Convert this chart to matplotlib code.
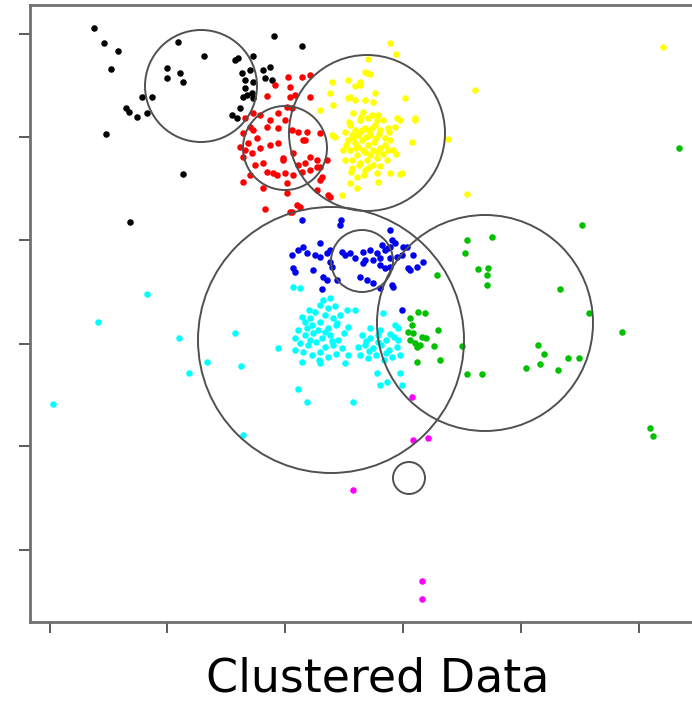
import matplotlib
matplotlib.use("Agg")
import matplotlib.pyplot as plt
from matplotlib.patches import Circle

# point clouds, one pair of lists per cluster
black_x = [4.4, 5.4, 6.8, 6.1, 11.7, 11.7, 13.0, 13.3, 12.8, 15.4, 18.5, 18.8, 20.3, 22.4,
           25.2, 22.0, 21.5, 22.2, 19.2, 19.5, 20.3, 19.7, 20.2, 19.3, 20.3, 9.2, 10.2, 7.6,
           7.9, 8.7, 9.7, 5.6, 13.3, 8.0, 18.2, 18.7, 19.5, 20.0, 19.0, 21.3]
black_y = [52.2, 50.7, 49.9, 48.1, 48.2, 47.2, 47.7, 46.8, 50.8, 49.4, 49.0, 49.2, 49.4, 51.4,
           50.4, 48.3, 47.2, 47.0, 47.7, 47.0, 46.8, 45.5, 45.7, 45.3, 45.2, 45.3, 45.3, 44.2,
           43.8, 43.3, 43.7, 41.6, 37.6, 32.8, 43.5, 43.2, 46.2, 48.0, 44.2, 48.0]

red_x = [23.8, 25.2, 26.0, 21.7, 24.5, 23.7, 24.2, 20.3, 21.0, 22.8, 20.0, 21.7, 22.8, 24.2,
         24.8, 19.3, 20.7, 19.8, 22.0, 22.8, 25.5, 27.0, 19.5, 21.0, 20.2, 21.3, 23.3, 26.0,
         26.7, 27.7, 21.7, 22.3, 23.5, 24.3, 25.2, 26.0, 26.7, 27.2, 19.3, 21.3, 23.7, 26.7,
         27.8, 21.5, 24.2, 25.0, 25.7, 24.0, 26.0, 20.3, 24.3, 27.0, 22.7, 23.7, 27.0, 28.0,
         25.3, 19.0, 19.3, 23.3, 24.8, 25.5, 20.5, 20.0, 22.0, 23.5, 19.5, 22.5, 24.0, 24.7,
         24.0]
red_y = [47.3, 47.3, 47.5, 45.4, 45.5, 44.3, 44.2, 43.7, 43.5, 43.7, 42.3, 42.3, 42.2, 42.0,
         41.8, 41.7, 41.2, 40.7, 40.5, 40.7, 41.0, 41.7, 40.0, 40.2, 39.7, 38.7, 39.2, 39.3,
         39.0, 39.0, 37.8, 37.7, 37.7, 37.5, 37.8, 38.0, 38.3, 37.3, 36.8, 36.2, 35.7, 36.0,
         35.5, 34.1, 33.8, 34.3, 41.8, 45.3, 45.3, 42.0, 39.7, 38.3, 37.5, 36.7, 37.0, 35.3,
         41.0, 40.3, 39.3, 39.0, 38.5, 38.7, 38.5, 37.5, 43.0, 43.0, 43.2, 46.5, 46.3, 34.5,
         33.8]

yellow_x = [34.0, 34.6, 31.8, 42.5, 61.3, 39.8, 41.7, 35.5, 36.5, 36.2, 34.0, 35.0, 32.8, 30.7,
            30.0, 29.2, 31.5, 32.0, 29.8, 31.0, 30.5, 32.5, 30.0, 30.5, 31.5, 32.3, 34.7, 35.0,
            30.3, 32.2, 32.7, 28.2, 28.0, 27.0, 28.3, 29.8, 31.7, 31.0, 36.5, 28.2, 28.5, 35.2,
            32.7, 30.7, 31.5, 32.7, 33.7, 33.8, 34.3, 30.0, 30.5, 31.0, 31.5, 32.0, 32.5, 33.0,
            33.5, 29.8, 30.5, 31.2, 31.8, 32.4, 33.0, 30.0, 30.7, 31.3, 32.0, 32.7, 30.2, 31.0,
            31.7, 32.3, 29.5, 30.8, 31.6, 32.2, 33.3, 33.8, 31.3, 31.8, 30.8, 33.5, 34.0, 29.6,
            30.2, 29.5, 31.2, 32.6, 30.2, 30.3, 31.0, 31.9, 32.9, 30.6, 31.5, 32.3, 33.3, 30.9,
            31.9, 29.9, 31.1, 32.8, 33.9, 29.3, 30.1, 31.4, 33.0, 34.6, 34.5]
yellow_y = [50.7, 49.6, 49.1, 46.0, 50.3, 41.1, 35.6, 45.2, 43.2, 40.8, 37.7, 37.6, 36.8, 36.2,
            36.7, 35.5, 47.8, 47.6, 47.0, 46.8, 46.4, 45.7, 45.3, 45.0, 45.0, 44.8, 43.2, 43.0,
            43.7, 43.5, 43.0, 46.8, 45.7, 44.0, 44.5, 45.2, 47.7, 46.5, 43.0, 41.5, 41.3, 37.7,
            37.7, 37.3, 38.0, 39.2, 39.0, 40.0, 40.0, 42.5, 42.0, 43.0, 42.2, 41.5, 42.5, 42.0,
            41.2, 41.0, 40.7, 41.0, 40.5, 40.8, 40.2, 40.0, 39.5, 40.0, 39.5, 39.8, 39.0, 38.7,
            39.0, 38.5, 41.8, 41.5, 41.3, 42.2, 43.0, 42.2, 43.8, 43.2, 40.3, 40.5, 41.0, 40.5,
            38.2, 39.0, 42.0, 41.2, 41.5, 41.2, 41.8, 41.9, 41.6, 40.2, 39.8, 40.0, 39.6, 38.5,
            38.3, 42.8, 43.3, 43.5, 41.8, 40.0, 37.8, 37.5, 38.4, 39.6, 42.3]

blue_x = [25.2, 29.1, 29.0, 34.0, 27.0, 25.3, 24.8, 24.2, 25.7, 26.5, 27.0, 27.7, 28.0, 29.2,
          30.0, 31.3, 32.7, 33.5, 34.0, 34.5, 35.3, 35.2, 34.7, 34.0, 33.0, 32.3, 31.5, 31.3,
          33.0, 33.5, 34.0, 36.3, 37.3, 36.7, 35.8, 24.3, 24.5, 26.3, 27.3, 27.7, 28.7, 27.2,
          31.0, 31.7, 32.3, 33.0, 34.3, 28.0, 28.2, 34.2, 33.8, 35.7, 36.0, 34.2, 35.2, 29.5,
          30.5, 32.0, 33.2]
blue_y = [33.0, 33.0, 32.5, 32.0, 30.7, 30.3, 30.0, 29.5, 29.7, 29.5, 29.3, 29.7, 30.0, 29.8,
          29.7, 29.8, 29.7, 30.0, 30.3, 30.7, 30.3, 29.5, 29.3, 29.2, 29.2, 29.0, 29.0, 28.7,
          28.5, 28.2, 28.3, 29.5, 28.8, 28.3, 28.2, 28.2, 27.8, 28.0, 27.3, 27.0, 27.0, 26.1,
          27.3, 27.0, 26.7, 26.2, 26.3, 28.8, 28.3, 31.0, 30.2, 30.3, 28.0, 26.5, 24.0, 29.5,
          29.2, 30.0, 30.5]

cyan_x = [9.7, 4.8, 0.3, 12.9, 13.9, 15.7, 18.5, 19.1, 22.8, 24.8, 25.7, 19.3, 24.3, 25.0,
          25.2, 27.0, 29.8, 29.8, 29.7, 30.5, 29.5, 30.3, 32.7, 33.0, 35.0, 35.2, 33.3, 34.8,
          33.7, 27.0, 27.8, 28.5, 26.5, 27.5, 28.3, 29.0, 25.5, 26.2, 27.0, 27.8, 28.6, 24.8,
          25.5, 26.3, 27.2, 28.0, 28.8, 25.0, 25.8, 26.6, 27.5, 28.3, 29.2, 25.3, 26.2, 27.0,
          27.8, 28.6, 24.5, 26.8, 26.0, 31.2, 32.0, 32.8, 33.6, 34.4, 31.5, 32.3, 33.1, 33.9,
          34.7, 31.0, 31.8, 32.6, 33.4, 34.2, 35.0, 32.0, 34.5, 25.9, 27.3, 28.0, 26.0, 27.5,
          28.2, 25.7, 29.4, 26.9, 24.5, 28.7, 25.2, 31.6, 32.8, 33.6, 34.0, 31.9, 33.0, 34.8,
          30.8]
cyan_y = [25.6, 22.8, 14.6, 21.2, 17.7, 18.8, 21.7, 18.4, 20.2, 16.1, 14.8, 11.5, 26.3, 26.2,
          18.8, 18.7, 19.5, 22.3, 24.0, 24.0, 18.7, 14.8, 17.7, 16.5, 17.7, 16.5, 23.7, 22.2,
          16.8, 24.5, 24.2, 24.4, 23.8, 23.5, 23.2, 23.5, 22.8, 22.5, 22.8, 22.2, 22.5, 22.0,
          21.5, 21.7, 21.2, 21.5, 21.0, 20.7, 20.5, 20.8, 20.3, 20.5, 20.2, 19.8, 19.5, 19.8,
          19.3, 19.6, 21.2, 22.0, 23.2, 21.5, 21.2, 21.5, 21.0, 21.3, 20.5, 20.2, 20.5, 20.0,
          20.3, 19.5, 19.2, 19.5, 19.0, 19.3, 19.5, 22.2, 22.5, 24.0, 25.0, 25.2, 21.0, 21.8,
          20.9, 22.2, 21.7, 19.0, 20.0, 22.7, 23.3, 20.9, 20.8, 19.7, 21.6, 19.9, 22.0, 21.0,
          20.3]

green_x = [53.2, 41.7, 44.2, 41.5, 42.8, 43.8, 43.7, 43.7, 38.7, 51.0, 53.9, 57.2, 48.8, 49.4,
           49.0, 47.6, 50.8, 51.8, 52.9, 41.7, 43.2, 60.0, 60.3, 38.8, 38.4, 39.0, 36.7, 36.0,
           36.2, 35.8, 36.3, 36.8, 37.5, 37.2, 36.7, 37.0, 36.5, 37.6, 41.2, 62.9, 36.0]
green_y = [32.5, 31.0, 31.3, 29.7, 28.1, 28.2, 27.5, 26.5, 27.5, 26.1, 23.7, 21.8, 20.5, 19.6,
           18.6, 18.2, 18.0, 19.2, 19.2, 17.6, 17.6, 12.2, 11.4, 22.0, 20.4, 19.0, 18.8, 23.2,
           22.5, 21.8, 21.7, 23.8, 23.7, 21.3, 20.3, 20.5, 20.7, 21.2, 20.4, 40.2, 21.0]

magenta_x = [36.2, 36.3, 37.8, 30.3, 37.2, 37.2]
magenta_y = [15.3, 11.0, 11.2, 6.0, -3.1, -4.9]

# cluster circles: centre and radius
circle_x = [15.1, 23.5, 31.7, 28.1, 31.2, 43.5, 35.9]
circle_y = [46.4, 40.2, 41.7, 21.0, 28.9, 22.7, 7.2]
circle_r = [5.6, 4.2, 7.8, 13.3, 3.1, 10.8, 1.6]

x_ticks = [0, 11.7, 23.5, 35.3, 47.1, 58.9]
y_ticks = [0, 10.4, 20.6, 31.0, 41.3, 51.6]

fig = plt.figure(figsize=(6.92, 7.03), dpi=100)
ax = fig.add_axes([30 / 692, 81 / 703, 670 / 692, 617 / 703])

clusters = [
    (black_x, black_y, "black"),
    (red_x, red_y, "#ff0000"),
    (yellow_x, yellow_y, "#ffff00"),
    (blue_x, blue_y, "#0000ee"),
    (cyan_x, cyan_y, "#00ffff"),
    (green_x, green_y, "#00c000"),
    (magenta_x, magenta_y, "#ff00ff"),
]
for xs, ys, col in clusters:
    ax.scatter(xs, ys, s=22, color=col, linewidths=0, zorder=2)

for cx, cy, r in zip(circle_x, circle_y, circle_r):
    ax.add_patch(Circle((cx, cy), r, fill=False, edgecolor="#505050", lw=1.4, zorder=3))

ax.set_xlim(-2.0, 65.0)
ax.set_ylim(-7.2, 54.5)
ax.set_xticks(x_ticks)
ax.set_yticks(y_ticks)
ax.set_xticklabels([])
ax.set_yticklabels([])
ax.tick_params(direction="out", length=8, width=1.2, color="#404040")
for sp in ax.spines.values():
    sp.set_color("#707070")
    sp.set_linewidth(2.0)

fig.text(378 / 692, 12 / 703, "Clustered Data", ha="center", va="baseline",
         fontsize=33, color="black")

fig.savefig("out.png", dpi=100)
